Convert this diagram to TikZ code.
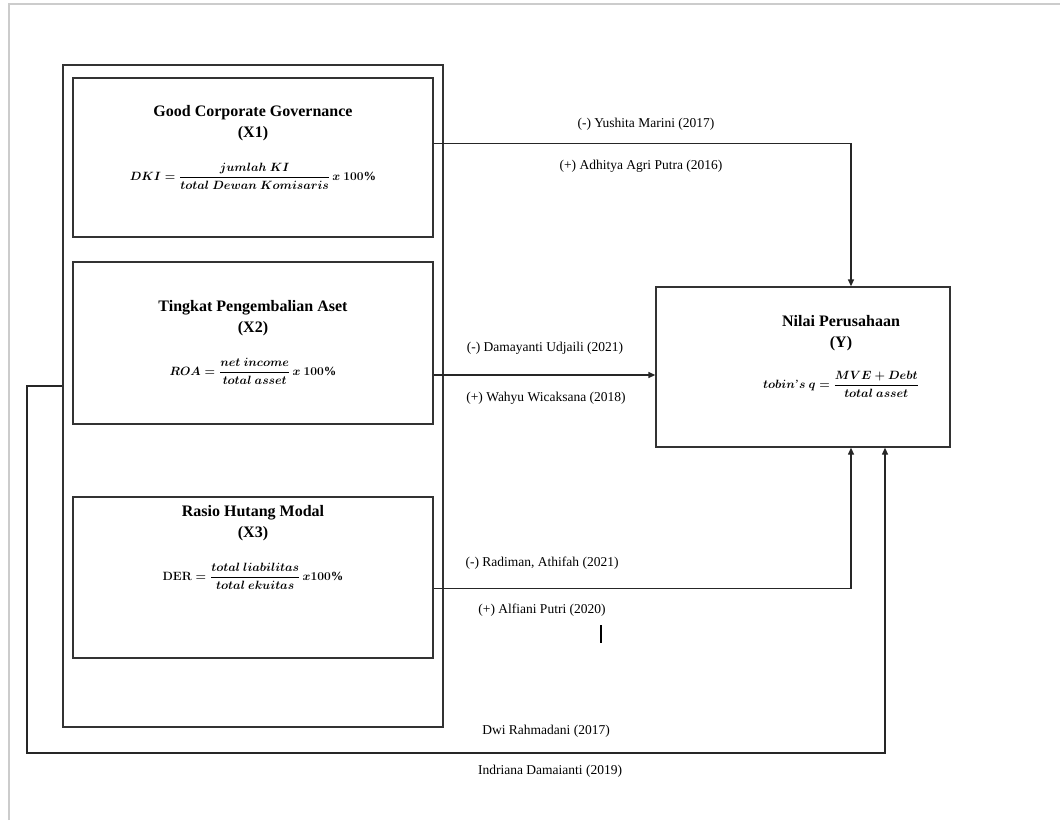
\documentclass[tikz,border=0pt]{standalone}
\usepackage{fontspec}
\setmainfont{Liberation Serif}
\usepackage{amsmath}
\usetikzlibrary{arrows.meta,positioning}

\begin{document}
\begin{tikzpicture}[
  x=1pt,y=-1pt,
  font=\fontsize{13.5}{16}\selectfont,
  box/.style={draw=black!80,line width=1.3pt,minimum width=360pt,inner sep=0pt},
  ybox/.style={draw=black!80,line width=1.3pt,minimum width=294pt,minimum height=160pt,inner sep=0pt},
  grpbox/.style={draw=black!80,line width=1.3pt,minimum width=380pt,minimum height=662pt,inner sep=0pt},
  ttl/.style={align=center,inner sep=0pt,font=\fontsize{16}{21}\selectfont\bfseries},
  eq/.style={inner sep=0pt,font=\fontsize{12.5}{15}\selectfont\boldmath},
  lbl/.style={inner sep=0pt},
  arr/.style={-{Triangle[length=7pt,width=6pt]},line width=1.3pt,draw=black!85}
]
\useasboundingbox (0,0) rectangle (1060,820);
% page edge
\draw[black!20,line width=1.6pt] (9,820) -- (9,4) -- (1060,4);

% independent variables
\node[grpbox] (grp) at (253,396) {};
\node[box,minimum height=159pt] (x1) at (253,157.5) {};
\node[box,minimum height=162pt] (x2) at (253,343) {};
\node[box,minimum height=161pt] (x3) at (253,577.5) {};
\node[ttl] (x1t) at (253,123) {Good Corporate Governance\\(X1)};
\node[eq] (x1f) at (253,176) {$DKI = \dfrac{jumlah\ KI}{total\ Dewan\ Komisaris}\,x\ 100\%$};
\node[ttl] (x2t) at (253,318) {Tingkat Pengembalian Aset\\(X2)};
\node[eq] (x2f) at (253,371) {$ROA = \dfrac{net\ income}{total\ asset}\,x\ 100\%$};
\node[ttl] (x3t) at (253,523) {Rasio Hutang Modal\\(X3)};
\node[eq] (x3f) at (253,576) {$\mathbf{DER} = \dfrac{total\ liabilitas}{total\ ekuitas}\,x100\%$};

% dependent variable
\node[ybox] (y) at (803,367) {};
\node[ttl] (yt) at (841,333) {Nilai Perusahaan\\(Y)};
\node[eq] (yf) at (841,384) {$tobin\text{'}s\ q = \dfrac{MVE + Debt}{total\ asset}$};

% connectors
\draw[arr] ([yshift=14pt]x1.east) -| ([xshift=48pt]y.north);
\draw[arr] ([yshift=-32pt]x2.east) -- ([yshift=-32pt]x2.east -| y.west);
\draw[arr] ([yshift=-11pt]x3.east) -| ([xshift=48pt]y.south);
\coordinate (loop) at (27,753);
\draw[arr] ([yshift=10pt]grp.west) -| (loop) -| ([xshift=82pt]y.south);
\draw[line width=1.2pt] (601,625) -- (601,643);

% labels
\node[lbl] (l1a) at (646,124) {(-) Yushita Marini (2017)};
\node[lbl] (l1b) at (641,166) {(+) Adhitya Agri Putra (2016)};
\node[lbl] (l2a) at (545,348) {(-) Damayanti Udjaili (2021)};
\node[lbl] (l2b) at (546,398) {(+) Wahyu Wicaksana (2018)};
\node[lbl] (l3a) at (542,563) {(-) Radiman, Athifah (2021)};
\node[lbl] (l3b) at (542,610) {(+) Alfiani Putri (2020)};
\node[lbl] (l4a) at (546,731) {Dwi Rahmadani (2017)};
\node[lbl] (l4b) at (550,771) {Indriana Damaianti (2019)};
\end{tikzpicture}
\end{document}
